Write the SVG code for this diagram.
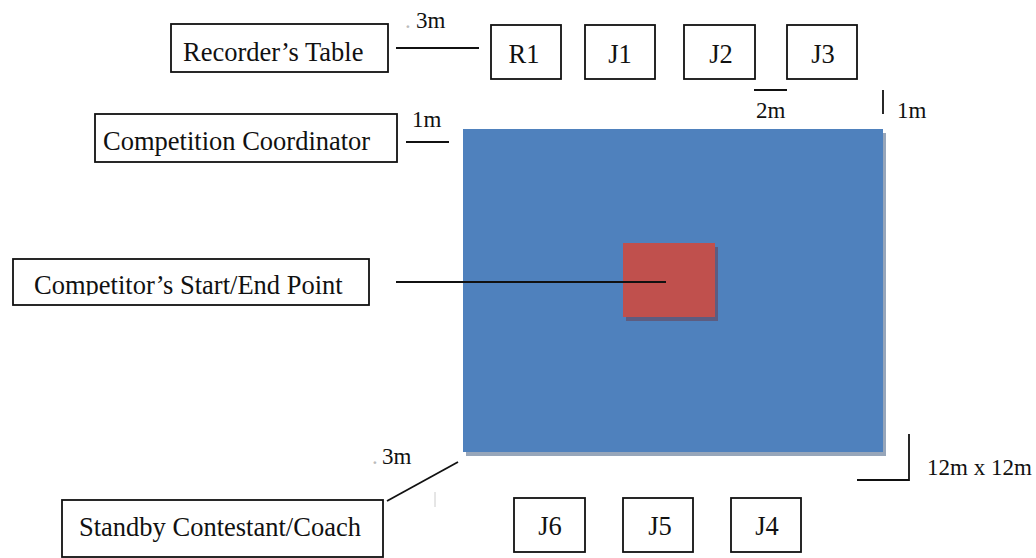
<svg xmlns="http://www.w3.org/2000/svg" width="1036" height="558" viewBox="0 0 1036 558">
<style>
.box{fill:#fff;stroke:#111;stroke-width:1.8}
.t{font-family:"Liberation Serif","Times New Roman",serif;font-size:26.5px;fill:#111}
.s{font-family:"Liberation Serif","Times New Roman",serif;font-size:23px;fill:#111}
.ln{stroke:#111;stroke-width:1.8;fill:none}
</style>
<defs>
<clipPath id="clipComp"><rect x="0" y="250" width="400" height="45.5"/></clipPath>
</defs>
<rect width="1036" height="558" fill="#fff"/>
<g id="mat">
<rect x="466" y="133" width="420" height="323" fill="#97a6ba"/>
<rect x="463" y="129" width="420" height="323" fill="#4f81bd"/>
</g>
<g id="start-point">
<rect x="626" y="247" width="92" height="74" fill="#5d5c80"/>
<rect x="623" y="243" width="92" height="74" fill="#c0504d"/>
</g>
<g id="recorders-table">
<rect class="box" x="171" y="24" width="217" height="48"/>
<text class="t" x="183" y="60.5">Recorder’s Table</text>
</g>
<g id="R1"><rect class="box" x="491" y="25" width="70" height="54"/><text class="t" x="524" y="63" text-anchor="middle">R1</text></g>
<g id="J1"><rect class="box" x="585" y="25" width="70" height="54"/><text class="t" x="620" y="63" text-anchor="middle">J1</text></g>
<g id="J2"><rect class="box" x="684" y="25" width="71" height="54"/><text class="t" x="721" y="63" text-anchor="middle">J2</text></g>
<g id="J3"><rect class="box" x="787" y="25" width="70" height="54"/><text class="t" x="823" y="63" text-anchor="middle">J3</text></g>
<g id="competition-coordinator">
<rect class="box" x="95" y="114" width="302" height="48"/>
<text class="t" x="103" y="150">Competition Coordinator</text>
</g>
<g id="competitor-start-end">
<rect class="box" x="13" y="259" width="356" height="46"/>
<text class="t" x="34" y="294" clip-path="url(#clipComp)">Competitor’s Start/End Point</text>
</g>
<g id="standby">
<rect class="box" x="62" y="500" width="321" height="57"/>
<text class="t" x="79" y="536">Standby Contestant/Coach</text>
</g>
<g id="J6"><rect class="box" x="514" y="498" width="71" height="54"/><text class="t" x="550" y="535" text-anchor="middle">J6</text></g>
<g id="J5"><rect class="box" x="623" y="498" width="70" height="54"/><text class="t" x="660" y="535" text-anchor="middle">J5</text></g>
<g id="J4"><rect class="box" x="731" y="498" width="70" height="54"/><text class="t" x="767" y="535" text-anchor="middle">J4</text></g>
<g id="connectors">
<line class="ln" x1="396" y1="48" x2="479" y2="48"/>
<line class="ln" x1="754" y1="90" x2="787" y2="90"/>
<line class="ln" x1="883" y1="90" x2="883" y2="114"/>
<line class="ln" x1="406" y1="142" x2="449" y2="142"/>
<line class="ln" x1="396" y1="282" x2="666" y2="282" stroke-width="2"/>
<polyline class="ln" points="857,480 909,480 909,434"/>
<line class="ln" x1="387" y1="501" x2="458" y2="462"/>
<line x1="435" y1="492" x2="435" y2="507" stroke="#ccc" stroke-width="1"/>
</g>
<g id="labels">
<text class="s" x="405" y="28"><tspan fill="#bbb">.</tspan><tspan x="416">3m</tspan></text>
<text class="s" x="756" y="118">2m</text>
<text class="s" x="897" y="118">1m</text>
<text class="s" x="412" y="127">1m</text>
<text class="s" x="372" y="464"><tspan fill="#bbb">.</tspan><tspan x="382">3m</tspan></text>
<text class="s" x="927" y="475">12m x 12m</text>
</g>
</svg>
